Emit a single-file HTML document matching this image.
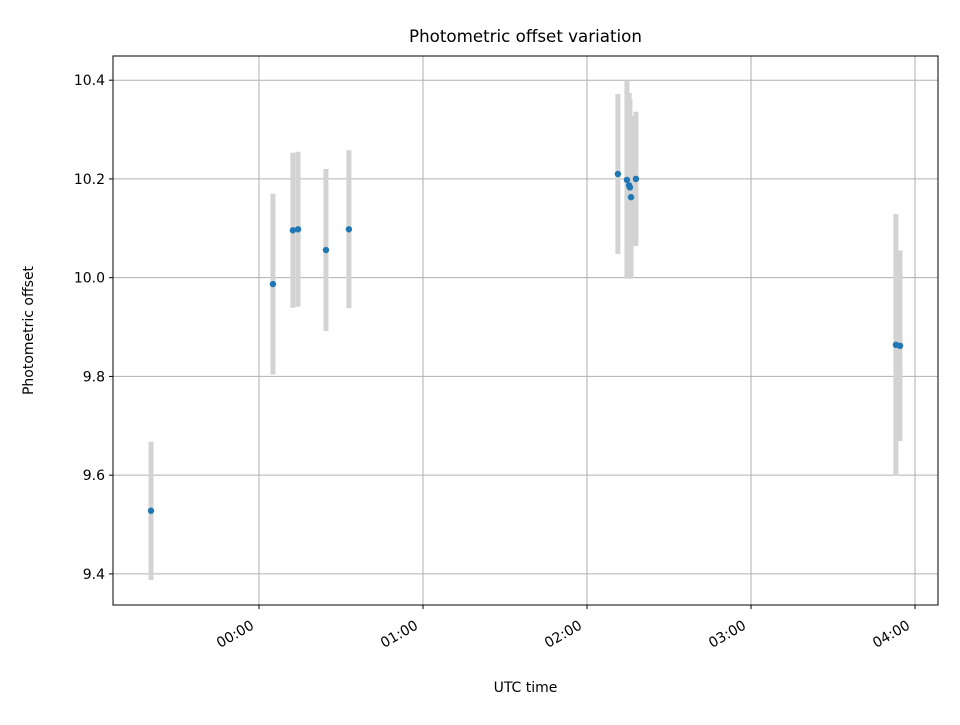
<!DOCTYPE html>
<html><head><meta charset="utf-8"><style>body{margin:0;background:#fff}svg{font-family:"DejaVu Sans","Liberation Sans",sans-serif}</style></head>
<body>
<svg id="c" width="960" height="720"></svg>
<script>
const times = [-39.5,5.1,12.4,14.3,24.5,32.9,131.3,134.6,135.4,135.7,136.1,137.9,233.0,234.5];
const offsets = [9.528,9.987,10.096,10.098,10.056,10.098,10.210,10.198,10.187,10.183,10.163,10.200,9.864,9.862];
const errors = [0.14,0.183,0.157,0.157,0.164,0.16,0.162,0.2,0.187,0.18,0.165,0.136,0.265,0.193];
const yTicks = [9.4,9.6,9.8,10.0,10.2,10.4];
const xTicks = [0,60,120,180,240];
const xTickLabels = ["00:00","01:00","02:00","03:00","04:00"];
const L=113,R=938,T=56,B=605;
const xmin=-53.4,xmax=248.4,ymin=9.337,ymax=10.449;
const sx=v=>L+(v-xmin)/(xmax-xmin)*(R-L);
const sy=v=>B-(v-ymin)/(ymax-ymin)*(B-T);
const svg=document.getElementById('c');const NS='http://www.w3.org/2000/svg';
function mk(t,a,p){const e=document.createElementNS(NS,t);for(const k in a)e.setAttribute(k,a[k]);(p||svg).appendChild(e);return e;}
const clip=mk('clipPath',{id:'pc'});mk('rect',{x:L,y:T,width:R-L,height:B-T},clip);
yTicks.forEach(v=>{const y=sy(v);
const g=mk('line',{x1:L,x2:R,y1:y,y2:y,stroke:'#b0b0b0','stroke-width':1});

mk('line',{x1:L-4,x2:L,y1:y,y2:y,stroke:'#000'});
const t=mk('text',{x:L-8,y:y+5,'text-anchor':'end','font-size':14});t.textContent=v.toFixed(1);
});
xTicks.forEach((v,i)=>{const x=sx(v);
const g=mk('line',{x1:x,x2:x,y1:T,y2:B,stroke:'#b0b0b0','stroke-width':1});

mk('line',{x1:x,x2:x,y1:B,y2:B+4,stroke:'#000'});
const ax=x-4,ay=B+23;
const t=mk('text',{x:ax,y:ay,'text-anchor':'end','font-size':14,transform:`rotate(-30 ${ax} ${ay})`});t.textContent=xTickLabels[i];
});
const eg=mk('g',{'clip-path':'url(#pc)'});
times.forEach((v,i)=>{const x=sx(v);
const e=mk('line',{x1:x,x2:x,y1:sy(offsets[i]-errors[i]),y2:sy(offsets[i]+errors[i]),stroke:'#d3d3d3','stroke-width':5},eg);
});
times.forEach((v,i)=>{const p=mk('circle',{cx:sx(v),cy:sy(offsets[i]),r:3.2,fill:'#1f77b4'},eg);
});
const fr=mk('rect',{x:L,y:T,width:R-L,height:B-T,fill:'none',stroke:'#000','stroke-width':1});

let t=mk('text',{x:(L+R)/2,y:42,'text-anchor':'middle','font-size':16.7});t.textContent='Photometric offset variation';

t=mk('text',{x:(L+R)/2,y:692,'text-anchor':'middle','font-size':14});t.textContent='UTC time';

t=mk('text',{x:33,y:(T+B)/2,'text-anchor':'middle','font-size':14,transform:`rotate(-90 33 ${(T+B)/2})`});t.textContent='Photometric offset';

</script>
</body></html>
